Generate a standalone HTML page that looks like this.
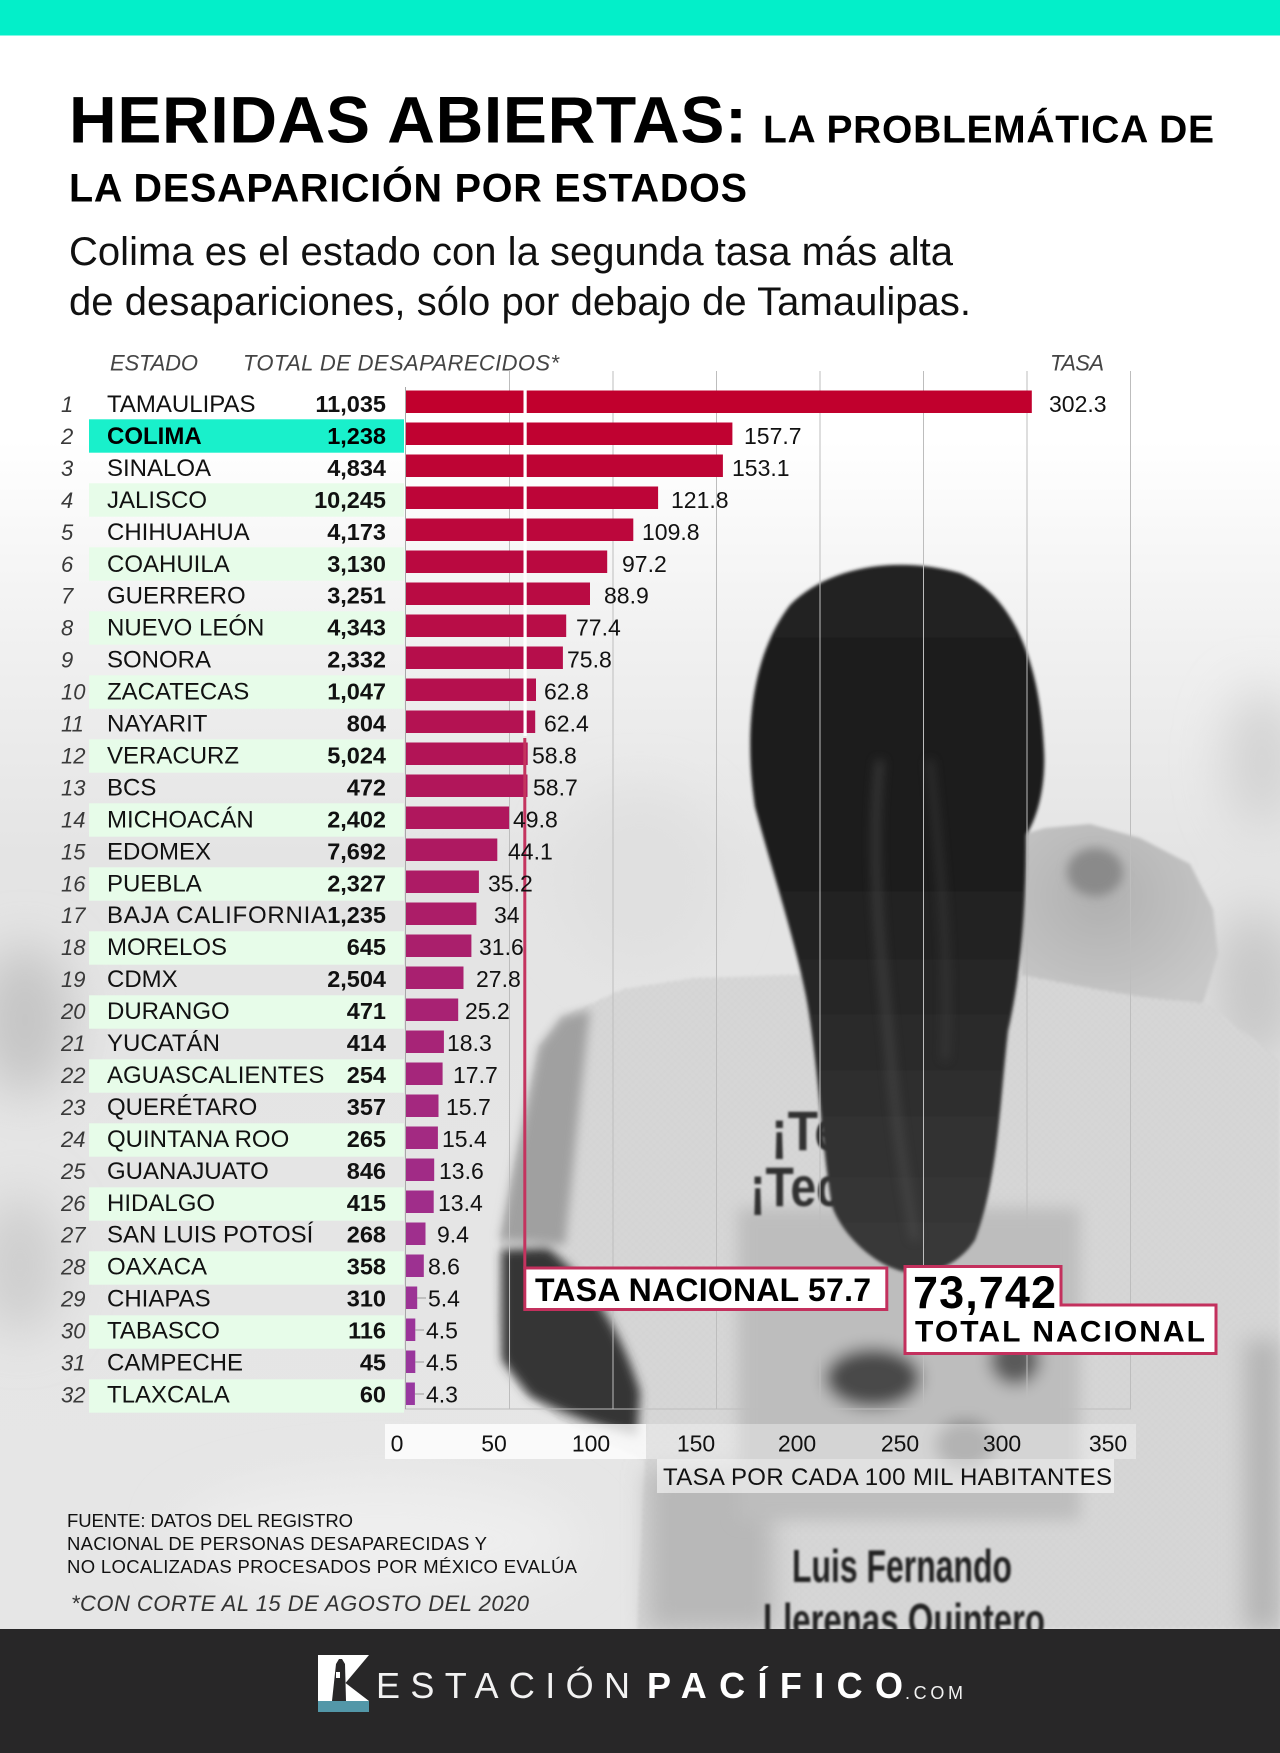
<!DOCTYPE html>
<html><head><meta charset="utf-8">
<style>
html,body{margin:0;padding:0;background:#fff}
svg{display:block}
text{font-family:"Liberation Sans",sans-serif}
.rn{font-size:22px;font-style:italic;fill:#3a3a3a}
.st{font-size:24px;fill:#111}
.nm{font-size:23.5px;font-weight:bold;fill:#111;text-anchor:end}
.vl{font-size:23px;fill:#111}
.tk{font-size:23px;fill:#111;text-anchor:middle}
.hd{font-size:22px;font-style:italic;fill:#444}
.fn{font-size:18.5px;fill:#111}
</style></head><body>
<svg width="1280" height="1753" viewBox="0 0 1280 1753" xmlns="http://www.w3.org/2000/svg">
<defs>
<filter id="b25" x="-50%" y="-50%" width="200%" height="200%"><feGaussianBlur stdDeviation="25"/></filter>
<filter id="b12" x="-50%" y="-50%" width="200%" height="200%"><feGaussianBlur stdDeviation="12"/></filter>
<filter id="b8" x="-30%" y="-30%" width="160%" height="160%"><feGaussianBlur stdDeviation="8"/></filter>
<filter id="b5" x="-30%" y="-30%" width="160%" height="160%"><feGaussianBlur stdDeviation="5"/></filter>
<filter id="b2" x="-10%" y="-10%" width="120%" height="120%"><feGaussianBlur stdDeviation="1.6"/></filter>
<filter id="b1"><feGaussianBlur stdDeviation="1.1"/></filter>
<linearGradient id="bg" x1="0" y1="0" x2="0" y2="1">
<stop offset="0" stop-color="#ffffff"/>
<stop offset="0.15" stop-color="#f2f2f2"/>
<stop offset="0.35" stop-color="#e4e4e4"/>
<stop offset="1" stop-color="#e6e6e6"/>
</linearGradient>
<linearGradient id="hair" x1="0" y1="0" x2="0" y2="1">
<stop offset="0" stop-color="#222"/>
<stop offset="0.35" stop-color="#1a1a1a"/>
<stop offset="0.7" stop-color="#2c2c2c"/>
<stop offset="1" stop-color="#3a3a3a"/>
</linearGradient>
<radialGradient id="baby" cx="0.4" cy="0.4" r="0.7">
<stop offset="0" stop-color="#b0b0b0"/>
<stop offset="1" stop-color="#c8c8c8"/>
</radialGradient>
<pattern id="dots" width="5" height="5" patternUnits="userSpaceOnUse" patternTransform="rotate(45)">
<circle cx="2.5" cy="2.5" r="1.1" fill="#000" opacity="0.12"/>
</pattern>
</defs>

<!-- page background -->
<rect x="0" y="0" width="1280" height="1753" fill="#fff"/>
<rect x="0" y="440" width="1280" height="1190" fill="url(#bg)"/>
<g filter="url(#b25)">
<ellipse cx="25" cy="1020" rx="45" ry="75" fill="#c4c4c4"/>
<ellipse cx="20" cy="1265" rx="40" ry="70" fill="#cdcdcd"/>
<ellipse cx="1262" cy="760" rx="35" ry="70" fill="#d2d2d2"/>
<ellipse cx="1255" cy="990" rx="45" ry="80" fill="#c8c8c8"/>
<ellipse cx="380" cy="1540" rx="200" ry="60" fill="#eeeeee"/>
<ellipse cx="640" cy="880" rx="80" ry="90" fill="#e0e0e0"/>
</g>

<!-- photo: woman -->
<g filter="url(#b2)">
<polygon fill="#d9d9d9" points="498,1320 500,1240 514,1168 539,1047 562,1017 623,989 694,978 786,975 1021,975 1100,990 1204,1003 1280,1059 1280,1629 637,1629 645,1460 600,1440 560,1420 520,1390 502,1358"/>
<polygon fill="url(#dots)" points="498,1320 500,1240 514,1168 539,1047 562,1017 623,989 694,978 786,975 1021,975 1100,990 1204,1003 1280,1059 1280,1629 637,1629 645,1460 600,1440 560,1420 520,1390 502,1358"/>
<polygon fill="url(#baby)" points="1021,835 1045,828 1090,824 1140,838 1190,864 1213,909 1218,954 1203,1003 1150,998 1100,990 1021,975"/>
</g>
<g filter="url(#b5)">
<polygon fill="#a0a0a0" points="500,1240 514,1168 539,1047 562,1017 590,1010 580,1100 565,1245"/>
<path d="M502,1250 L548,1248 Q612,1300 640,1392 L637,1436 Q580,1422 530,1396 L502,1360 Z" fill="#363636"/>
<ellipse cx="1095" cy="872" rx="28" ry="24" fill="#8a8a8a"/>
</g>
<g filter="url(#b12)">
<rect x="1245" y="1340" width="35" height="289" fill="#b4b4b4"/>
<rect x="648" y="1470" width="125" height="159" fill="#b8b8b8"/>
</g>
<g filter="url(#b8)">
<rect x="738" y="1208" width="342" height="312" fill="#bdbdbd"/>
<ellipse cx="873" cy="1378" rx="48" ry="30" fill="#4a4a4a"/>
<ellipse cx="1015" cy="1360" rx="25" ry="25" fill="#5a5a5a"/>
<ellipse cx="965" cy="1445" rx="30" ry="25" fill="#8a8a8a"/>
</g>
<g filter="url(#b1)">
<text x="771" y="1150" font-size="56" font-weight="bold" fill="#333" textLength="71" lengthAdjust="spacingAndGlyphs">¡Te</text>
<text x="750" y="1206" font-size="56" font-weight="bold" fill="#333" textLength="92" lengthAdjust="spacingAndGlyphs">¡Tec</text>
<text x="792" y="1582" font-size="46" font-weight="bold" fill="#222" textLength="220" lengthAdjust="spacingAndGlyphs">Luis Fernando</text>
<text x="763" y="1636" font-size="46" font-weight="bold" fill="#222" textLength="282" lengthAdjust="spacingAndGlyphs">Llerenas Quintero</text>
</g>
<!-- hair -->
<g filter="url(#b2)">
<path fill="url(#hair)" d="M755,807 C745,740 748,660 790,605 C830,565 900,556 960,573 C1012,594 1040,660 1044,750 C1046,790 1036,820 1026,835 C1026,900 1022,970 1008,1031 C1000,1100 998,1180 975,1240 C958,1266 930,1276 905,1272 C875,1266 842,1235 832,1206 C822,1150 818,1060 806,996 C795,940 772,870 755,807 Z"/>
</g>
<g filter="url(#b5)" opacity="0.5">
<path d="M880,760 C870,850 880,950 890,1050 C895,1120 905,1180 915,1240" stroke="#555" stroke-width="8" fill="none"/>
<path d="M930,760 C940,860 950,960 945,1060" stroke="#4a4a4a" stroke-width="6" fill="none"/>
</g>

<!-- top teal bar -->
<rect x="0" y="0" width="1280" height="35.5" fill="#03efc9"/>

<!-- Title -->
<text x="69" y="142.5" font-size="66" font-weight="bold" fill="#000" textLength="678">HERIDAS ABIERTAS:</text>
<text x="763" y="142.5" font-size="39" font-weight="bold" fill="#000" textLength="451">LA PROBLEMÁTICA DE</text>
<text x="69" y="201.5" font-size="39.5" font-weight="bold" fill="#000" textLength="678">LA DESAPARICIÓN POR ESTADOS</text>
<text x="69" y="265" font-size="40" fill="#111" textLength="884">Colima es el estado con la segunda tasa más alta</text>
<text x="69" y="315" font-size="40" fill="#111" textLength="902">de desapariciones, sólo por debajo de Tamaulipas.</text>

<!-- headers -->
<text class="hd" x="110" y="370.5" textLength="88">ESTADO</text>
<text class="hd" x="243" y="370.5" textLength="316">TOTAL DE DESAPARECIDOS*</text>
<text class="hd" x="1050" y="370.5" textLength="54">TASA</text>

<!-- gridlines -->
<g stroke="#bdbdbd" stroke-width="1">
<line x1="509.5" y1="371" x2="509.5" y2="1409"/>
<line x1="613" y1="371" x2="613" y2="1409"/>
<line x1="716.5" y1="371" x2="716.5" y2="1409"/>
<line x1="820" y1="371" x2="820" y2="1409"/>
<line x1="923.5" y1="371" x2="923.5" y2="1409"/>
<line x1="1027" y1="371" x2="1027" y2="1409"/>
<line x1="1130.5" y1="371" x2="1130.5" y2="1409"/>
<line x1="405" y1="1409" x2="1131" y2="1409"/>
</g>
<line x1="405.5" y1="387" x2="405.5" y2="1409" stroke="#a8a8a8" stroke-width="1"/>

<!-- row bands -->
<g fill="#e7fce9">
<rect x="89" y="483.3" width="315" height="33.4"/>
<rect x="89" y="547.3" width="315" height="33.4"/>
<rect x="89" y="611.3" width="315" height="33.4"/>
<rect x="89" y="675.3" width="315" height="33.4"/>
<rect x="89" y="739.3" width="315" height="33.4"/>
<rect x="89" y="803.3" width="315" height="33.4"/>
<rect x="89" y="867.3" width="315" height="33.4"/>
<rect x="89" y="931.3" width="315" height="33.4"/>
<rect x="89" y="995.3" width="315" height="33.4"/>
<rect x="89" y="1059.3" width="315" height="33.4"/>
<rect x="89" y="1123.3" width="315" height="33.4"/>
<rect x="89" y="1187.3" width="315" height="33.4"/>
<rect x="89" y="1251.3" width="315" height="33.4"/>
<rect x="89" y="1315.3" width="315" height="33.4"/>
<rect x="89" y="1379.3" width="315" height="33.4"/>
</g>
<rect x="89" y="419.3" width="315" height="33.4" fill="#19f0cb"/>

<!-- bars -->
<rect x="406" y="390.5" width="625.8" height="22.5" fill="rgb(193,0,45)"/>
<rect x="406" y="422.5" width="326.4" height="22.5" fill="rgb(192,2,49)"/>
<rect x="406" y="454.5" width="316.9" height="22.5" fill="rgb(190,4,52)"/>
<rect x="406" y="486.5" width="252.1" height="22.5" fill="rgb(189,5,56)"/>
<rect x="406" y="518.5" width="227.3" height="22.5" fill="rgb(188,7,60)"/>
<rect x="406" y="550.5" width="201.2" height="22.5" fill="rgb(186,9,64)"/>
<rect x="406" y="582.5" width="184.0" height="22.5" fill="rgb(185,11,67)"/>
<rect x="406" y="614.5" width="160.2" height="22.5" fill="rgb(184,13,71)"/>
<rect x="406" y="646.5" width="156.9" height="22.5" fill="rgb(182,14,75)"/>
<rect x="406" y="678.5" width="130.0" height="22.5" fill="rgb(181,16,78)"/>
<rect x="406" y="710.5" width="129.2" height="22.5" fill="rgb(180,18,82)"/>
<rect x="406" y="742.5" width="121.7" height="22.5" fill="rgb(178,20,86)"/>
<rect x="406" y="774.5" width="121.5" height="22.5" fill="rgb(177,22,90)"/>
<rect x="406" y="806.5" width="103.1" height="22.5" fill="rgb(176,23,93)"/>
<rect x="406" y="838.5" width="91.3" height="22.5" fill="rgb(174,25,97)"/>
<rect x="406" y="870.5" width="72.9" height="22.5" fill="rgb(173,27,101)"/>
<rect x="406" y="902.5" width="70.4" height="22.5" fill="rgb(172,29,104)"/>
<rect x="406" y="934.5" width="65.4" height="22.5" fill="rgb(170,31,108)"/>
<rect x="406" y="966.5" width="57.5" height="22.5" fill="rgb(169,32,112)"/>
<rect x="406" y="998.5" width="52.2" height="22.5" fill="rgb(168,34,115)"/>
<rect x="406" y="1030.5" width="37.9" height="22.5" fill="rgb(167,36,119)"/>
<rect x="406" y="1062.5" width="36.6" height="22.5" fill="rgb(165,38,123)"/>
<rect x="406" y="1094.5" width="32.5" height="22.5" fill="rgb(164,40,127)"/>
<rect x="406" y="1126.5" width="31.9" height="22.5" fill="rgb(163,42,130)"/>
<rect x="406" y="1158.5" width="28.2" height="22.5" fill="rgb(161,43,134)"/>
<rect x="406" y="1190.5" width="27.7" height="22.5" fill="rgb(160,45,138)"/>
<rect x="406" y="1222.5" width="19.5" height="22.5" fill="rgb(159,47,141)"/>
<rect x="406" y="1254.5" width="17.8" height="22.5" fill="rgb(157,49,145)"/>
<rect x="406" y="1286.5" width="11.2" height="22.5" fill="rgb(156,51,149)"/>
<rect x="406" y="1318.5" width="9.3" height="22.5" fill="rgb(155,52,153)"/>
<rect x="406" y="1350.5" width="9.3" height="22.5" fill="rgb(153,54,156)"/>
<rect x="406" y="1382.5" width="8.9" height="22.5" fill="rgb(152,56,160)"/>

<!-- leader lines -->
<g stroke="#999" stroke-width="1">
<line x1="417" y1="1298" x2="426" y2="1298"/>
<line x1="415" y1="1330" x2="424" y2="1330"/>
<line x1="415" y1="1362" x2="424" y2="1362"/>
<line x1="415" y1="1394" x2="424" y2="1394"/>
</g>

<!-- national rate line -->
<rect x="523.5" y="388" width="3.2" height="348" fill="#fff"/>
<rect x="523.3" y="738" width="3" height="531" fill="#c4345f"/>

<!-- row numbers -->
<g class="rn">
<text x="61" y="412">1</text><text x="61" y="444">2</text><text x="61" y="475.9">3</text><text x="61" y="507.9">4</text>
<text x="61" y="539.8">5</text><text x="61" y="571.8">6</text><text x="61" y="603.7">7</text><text x="61" y="635.7">8</text>
<text x="61" y="667.6">9</text><text x="61" y="699.6">10</text><text x="61" y="731.5">11</text><text x="61" y="763.5">12</text>
<text x="61" y="795.4">13</text><text x="61" y="827.4">14</text><text x="61" y="859.3">15</text><text x="61" y="891.3">16</text>
<text x="61" y="923.2">17</text><text x="61" y="955.2">18</text><text x="61" y="987.1">19</text><text x="61" y="1019.1">20</text>
<text x="61" y="1051">21</text><text x="61" y="1083">22</text><text x="61" y="1114.9">23</text><text x="61" y="1146.9">24</text>
<text x="61" y="1178.8">25</text><text x="61" y="1210.8">26</text><text x="61" y="1242.7">27</text><text x="61" y="1274.7">28</text>
<text x="61" y="1306.6">29</text><text x="61" y="1338.6">30</text><text x="61" y="1370.5">31</text><text x="61" y="1402.5">32</text>
</g>

<!-- state names -->
<g class="st">
<text x="107" y="412">TAMAULIPAS</text>
<text x="107" y="444" font-weight="bold" fill="#000">COLIMA</text>
<text x="107" y="475.9">SINALOA</text>
<text x="107" y="507.9">JALISCO</text>
<text x="107" y="539.8">CHIHUAHUA</text>
<text x="107" y="571.8">COAHUILA</text>
<text x="107" y="603.7">GUERRERO</text>
<text x="107" y="635.7">NUEVO LEÓN</text>
<text x="107" y="667.6">SONORA</text>
<text x="107" y="699.6">ZACATECAS</text>
<text x="107" y="731.5">NAYARIT</text>
<text x="107" y="763.5">VERACURZ</text>
<text x="107" y="795.4">BCS</text>
<text x="107" y="827.4">MICHOACÁN</text>
<text x="107" y="859.3">EDOMEX</text>
<text x="107" y="891.3">PUEBLA</text>
<text x="107" y="923.2" textLength="220">BAJA CALIFORNIA</text>
<text x="107" y="955.2">MORELOS</text>
<text x="107" y="987.1">CDMX</text>
<text x="107" y="1019.1">DURANGO</text>
<text x="107" y="1051">YUCATÁN</text>
<text x="107" y="1083">AGUASCALIENTES</text>
<text x="107" y="1114.9">QUERÉTARO</text>
<text x="107" y="1146.9">QUINTANA ROO</text>
<text x="107" y="1178.8">GUANAJUATO</text>
<text x="107" y="1210.8">HIDALGO</text>
<text x="107" y="1242.7">SAN LUIS POTOSÍ</text>
<text x="107" y="1274.7">OAXACA</text>
<text x="107" y="1306.6">CHIAPAS</text>
<text x="107" y="1338.6">TABASCO</text>
<text x="107" y="1370.5">CAMPECHE</text>
<text x="107" y="1402.5">TLAXCALA</text>
</g>

<!-- totals -->
<g class="nm">
<text x="386" y="412">11,035</text><text x="386" y="444" fill="#000">1,238</text><text x="386" y="475.9">4,834</text><text x="386" y="507.9">10,245</text>
<text x="386" y="539.8">4,173</text><text x="386" y="571.8">3,130</text><text x="386" y="603.7">3,251</text><text x="386" y="635.7">4,343</text>
<text x="386" y="667.6">2,332</text><text x="386" y="699.6">1,047</text><text x="386" y="731.5">804</text><text x="386" y="763.5">5,024</text>
<text x="386" y="795.4">472</text><text x="386" y="827.4">2,402</text><text x="386" y="859.3">7,692</text><text x="386" y="891.3">2,327</text>
<text x="386" y="923.2">1,235</text><text x="386" y="955.2">645</text><text x="386" y="987.1">2,504</text><text x="386" y="1019.1">471</text>
<text x="386" y="1051">414</text><text x="386" y="1083">254</text><text x="386" y="1114.9">357</text><text x="386" y="1146.9">265</text>
<text x="386" y="1178.8">846</text><text x="386" y="1210.8">415</text><text x="386" y="1242.7">268</text><text x="386" y="1274.7">358</text>
<text x="386" y="1306.6">310</text><text x="386" y="1338.6">116</text><text x="386" y="1370.5">45</text><text x="386" y="1402.5">60</text>
</g>

<!-- values -->
<g class="vl">
<text x="1049" y="412">302.3</text>
<text x="744" y="444">157.7</text>
<text x="732" y="475.9">153.1</text>
<text x="671" y="507.9">121.8</text>
<text x="642" y="539.8">109.8</text>
<text x="622" y="571.8">97.2</text>
<text x="604" y="603.7">88.9</text>
<text x="576" y="635.7">77.4</text>
<text x="567" y="667.6">75.8</text>
<text x="544" y="699.6">62.8</text>
<text x="544" y="731.5">62.4</text>
<text x="532" y="763.5">58.8</text>
<text x="533" y="795.4">58.7</text>
<text x="513" y="827.4">49.8</text>
<text x="508" y="859.3">44.1</text>
<text x="488" y="891.3">35.2</text>
<text x="494" y="923.2">34</text>
<text x="479" y="955.2">31.6</text>
<text x="476" y="987.1">27.8</text>
<text x="465" y="1019.1">25.2</text>
<text x="447" y="1051">18.3</text>
<text x="453" y="1083">17.7</text>
<text x="446" y="1114.9">15.7</text>
<text x="442" y="1146.9">15.4</text>
<text x="439" y="1178.8">13.6</text>
<text x="438" y="1210.8">13.4</text>
<text x="437" y="1242.7">9.4</text>
<text x="428" y="1274.7">8.6</text>
<text x="428" y="1306.6">5.4</text>
<text x="426" y="1338.6">4.5</text>
<text x="426" y="1370.5">4.5</text>
<text x="426" y="1402.5">4.3</text>
</g>

<!-- callout boxes -->
<rect x="524.8" y="1268" width="362" height="41.5" fill="#fff" stroke="#c3305d" stroke-width="3"/>
<text x="535" y="1301" font-size="32" font-weight="bold" fill="#000" textLength="336">TASA NACIONAL 57.7</text>
<polygon points="905,1266.5 1061,1266.5 1061,1305 1216,1305 1216,1353.5 905,1353.5" fill="#fff" stroke="#c3305d" stroke-width="3"/>
<text x="913" y="1308" font-size="45" font-weight="bold" fill="#000" textLength="143">73,742</text>
<text x="915" y="1341.5" font-size="30" font-weight="bold" fill="#000" textLength="290">TOTAL NACIONAL</text>

<!-- axis tick backdrops -->
<rect x="385" y="1424" width="261" height="35" fill="#fff" opacity="0.8"/>
<rect x="646" y="1424" width="490" height="35" fill="#fff" opacity="0.35"/>
<rect x="657" y="1459" width="457" height="34" fill="#fff" opacity="0.55"/>
<g class="tk">
<text x="397" y="1451.5">0</text>
<text x="494" y="1451.5">50</text>
<text x="591" y="1451.5">100</text>
<text x="696" y="1451.5">150</text>
<text x="797" y="1451.5">200</text>
<text x="900" y="1451.5">250</text>
<text x="1002" y="1451.5">300</text>
<text x="1108" y="1451.5">350</text>
</g>
<text x="663" y="1485" font-size="24" fill="#111" textLength="449">TASA POR CADA 100 MIL HABITANTES</text>

<!-- footnotes -->
<text class="fn" x="67" y="1527" textLength="286">FUENTE: DATOS DEL REGISTRO</text>
<text class="fn" x="67" y="1550" textLength="420">NACIONAL DE PERSONAS DESAPARECIDAS Y</text>
<text class="fn" x="67" y="1573" textLength="510">NO LOCALIZADAS PROCESADOS POR MÉXICO EVALÚA</text>
<text x="71" y="1611" font-size="22" font-style="italic" fill="#333" textLength="458">*CON CORTE AL 15 DE AGOSTO DEL 2020</text>

<!-- footer -->
<rect x="0" y="1629" width="1280" height="124" fill="#282728"/>
<polygon points="318,1655 369,1655 345.5,1683 369,1701 318,1701" fill="#fff"/>
<path d="M332,1701 L336,1664 L339,1659 L342,1659 L345,1664 L346,1701 Z" fill="#282728"/>
<rect x="336" y="1672" width="4" height="6" fill="#fff"/>
<rect x="318" y="1701" width="51" height="11" fill="#5397a8"/>
<text x="376" y="1698" font-size="36" fill="#f2f2f2" textLength="254">ESTACIÓN</text>
<text x="647" y="1698" font-size="36" font-weight="bold" fill="#fff" textLength="256">PACÍFICO</text>
<text x="905" y="1699" font-size="18" fill="#f2f2f2" textLength="58">.COM</text>
</svg>
</body></html>
